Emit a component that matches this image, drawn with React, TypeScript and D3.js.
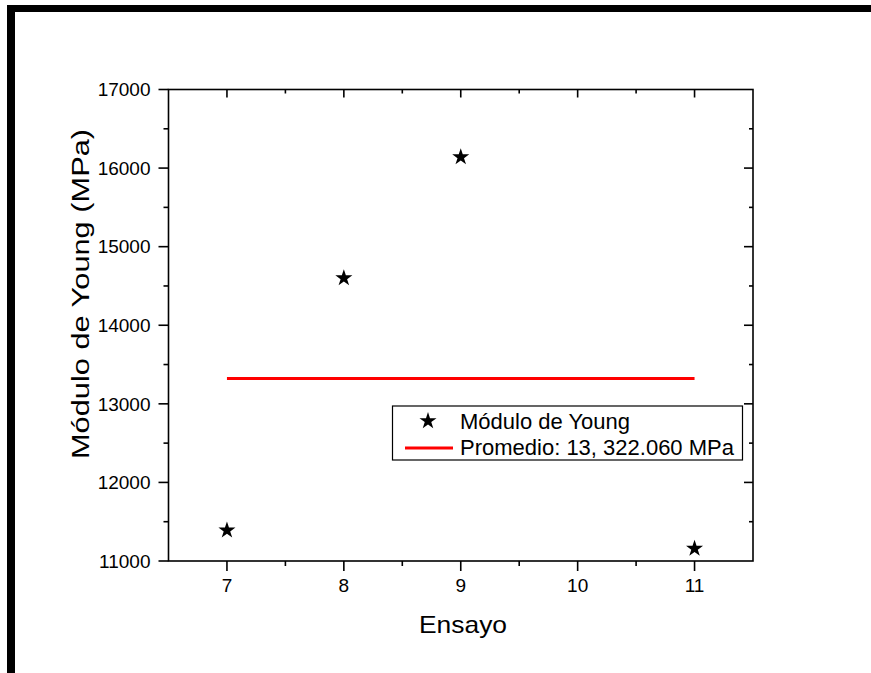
import React, { useEffect, useRef } from "react";
import * as d3 from "d3";

const ensayos = [7, 8, 9, 11];
const modulo = [11390, 14600, 16140, 11158];
const promedio = 13322.06;
const xTicks = [7, 8, 9, 10, 11];
const yTicks = [11000, 12000, 13000, 14000, 15000, 16000, 17000];
const legendLabels = ["Módulo de Young", "Promedio: 13, 322.060 MPa"];

const W = 871, H = 673;
const FONT = "'Liberation Sans', Arial, sans-serif";

export default function App() {
  const ref = useRef<SVGSVGElement>(null);
  useEffect(() => {
    const svg = d3.select(ref.current);
    svg.selectAll("*").remove();
    svg.append("rect").attr("width", W).attr("height", H).attr("fill", "#fff");
    // frame
    svg.append("rect").attr("x", 7).attr("y", 5).attr("width", W - 7).attr("height", 7).attr("fill", "#000");
    svg.append("rect").attr("x", 7).attr("y", 5).attr("width", 8).attr("height", H - 5).attr("fill", "#000");

    const L = 168.5, R = 753, T = 89.5, B = 561;
    const x = d3.scaleLinear().domain([6.5, 11.5]).range([L, R]);
    const y = d3.scaleLinear().domain([11000, 17000]).range([B, T]);
    const g = svg.append("g");
    const sw = 1.6;
    const xMinor = d3.range(6.5, 11.51, 0.5).filter((v) => !xTicks.includes(v));
    const yMinor = d3.range(11000, 17001, 500).filter((v) => !yTicks.includes(v));

    xTicks.forEach((v) => {
      g.append("line").attr("x1", x(v)).attr("x2", x(v)).attr("y1", B).attr("y2", B + 10).attr("stroke", "#000").attr("stroke-width", sw);
      g.append("line").attr("x1", x(v)).attr("x2", x(v)).attr("y1", T).attr("y2", T + 8).attr("stroke", "#000").attr("stroke-width", sw);
      g.append("text").attr("x", x(v)).attr("y", B + 31).attr("text-anchor", "middle")
        .attr("font-family", FONT).attr("font-size", 19).text(String(v));
    });
    xMinor.forEach((v) => {
      if (v <= 6.5 || v >= 11.5) return;
      g.append("line").attr("x1", x(v)).attr("x2", x(v)).attr("y1", B).attr("y2", B + 5).attr("stroke", "#000").attr("stroke-width", sw);
      g.append("line").attr("x1", x(v)).attr("x2", x(v)).attr("y1", T).attr("y2", T + 4).attr("stroke", "#000").attr("stroke-width", sw);
    });
    yTicks.forEach((v) => {
      g.append("line").attr("x1", L - 10).attr("x2", L).attr("y1", y(v)).attr("y2", y(v)).attr("stroke", "#000").attr("stroke-width", sw);
      if (v !== 11000 && v !== 17000)
        g.append("line").attr("x1", R - 9).attr("x2", R).attr("y1", y(v)).attr("y2", y(v)).attr("stroke", "#000").attr("stroke-width", sw);
      g.append("text").attr("x", L - 18).attr("y", y(v) + 6.8).attr("text-anchor", "end")
        .attr("font-family", FONT).attr("font-size", 19).text(String(v));
    });
    yMinor.forEach((v) => {
      g.append("line").attr("x1", L - 5).attr("x2", L).attr("y1", y(v)).attr("y2", y(v)).attr("stroke", "#000").attr("stroke-width", sw);
      g.append("line").attr("x1", R - 4).attr("x2", R).attr("y1", y(v)).attr("y2", y(v)).attr("stroke", "#000").attr("stroke-width", sw);
    });
    g.append("rect").attr("x", L).attr("y", T).attr("width", R - L).attr("height", B - T)
      .attr("fill", "none").attr("stroke", "#000").attr("stroke-width", sw);

    // axis titles
    g.append("text").attr("x", 463).attr("y", 633).attr("text-anchor", "middle")
      .attr("font-family", FONT).attr("font-size", 24)
      .attr("textLength", 88).attr("lengthAdjust", "spacingAndGlyphs").text("Ensayo");
    g.append("text").attr("transform", `translate(89, 294) rotate(-90)`).attr("text-anchor", "middle")
      .attr("font-family", FONT).attr("font-size", 23)
      .attr("textLength", 330).attr("lengthAdjust", "spacingAndGlyphs").text("Módulo de Young (MPa)");

    // mean line
    g.append("line").attr("x1", x(7)).attr("x2", x(11)).attr("y1", y(promedio)).attr("y2", y(promedio))
      .attr("stroke", "#f00").attr("stroke-width", 3);

    const star = d3.symbol().type(d3.symbolStar).size(90);
    g.selectAll("path.pt").data(ensayos).enter().append("path").attr("class", "pt")
      .attr("d", star as any)
      .attr("transform", (d, i) => `translate(${x(d)},${y(modulo[i])})`)
      .attr("fill", "#000");

    // legend
    const lg = g.append("g");
    lg.append("rect").attr("x", 392.5).attr("y", 406).attr("width", 350).attr("height", 54)
      .attr("fill", "#fff").attr("stroke", "#000").attr("stroke-width", 1.2);
    lg.append("path").attr("d", star as any).attr("transform", "translate(428,421)").attr("fill", "#000");
    lg.append("line").attr("x1", 405).attr("x2", 453).attr("y1", 448).attr("y2", 448).attr("stroke", "#f00").attr("stroke-width", 3);
    legendLabels.forEach((t, i) => {
      lg.append("text").attr("x", 460).attr("y", 429 + i * 26).attr("font-family", FONT).attr("font-size", 22).text(t);
    });
  }, []);
  return (
    <svg ref={ref} width={W} height={H} style={{ position: "absolute", left: 0, top: 0, display: "block" }} />
  );
}
